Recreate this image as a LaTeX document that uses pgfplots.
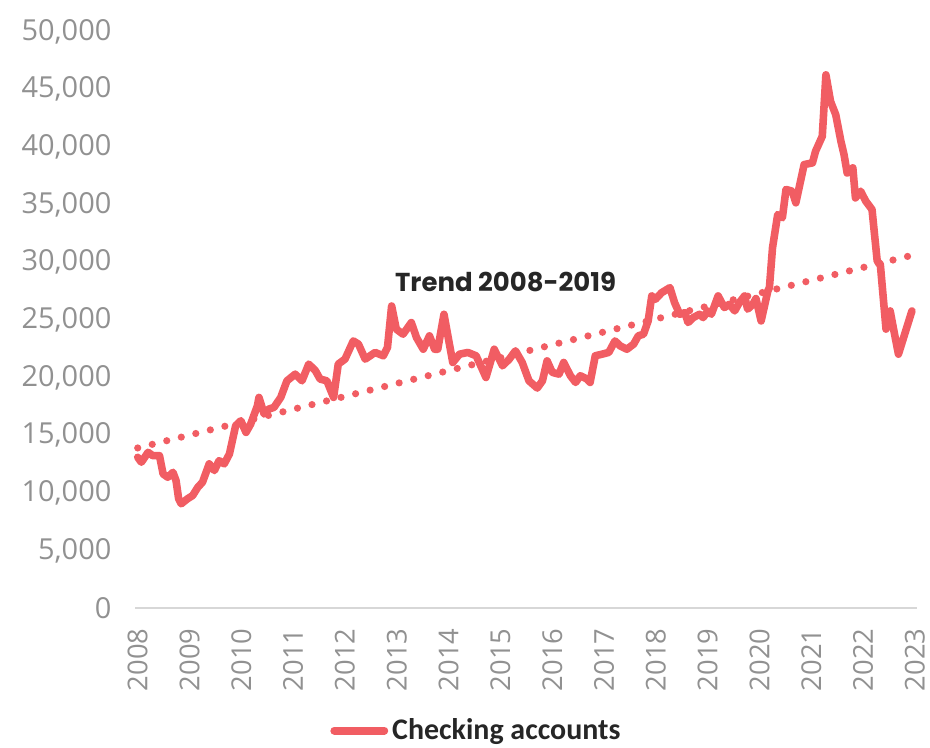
\documentclass[border=0pt]{standalone}
\usepackage{pgfplots}
\pgfplotsset{compat=1.18}
\usepackage{fontspec}
\setmainfont{Open Sans}
\newfontfamily\legfont{Carlito}
\newfontfamily\trendfont{Poppins}
\definecolor{acct}{RGB}{241,93,99}
\definecolor{ticklab}{RGB}{145,145,145}
\definecolor{axisgray}{RGB}{215,215,215}

\pgfplotstableread{
year value
2008.00 13090
2008.07 12660
2008.20 13520
2008.29 13235
2008.42 13235
2008.49 11650
2008.58 11360
2008.68 11790
2008.74 11070
2008.79 9490
2008.84 9060
2008.96 9490
2009.06 9775
2009.16 10490
2009.25 10930
2009.38 12520
2009.48 11940
2009.57 12800
2009.67 12520
2009.77 13380
2009.89 15830
2009.99 16260
2010.09 15250
2010.18 15970
2010.31 17560
2010.34 18280
2010.44 16840
2010.53 17270
2010.63 17420
2010.76 18280
2010.88 19720
2011.04 20300
2011.17 19720
2011.30 21170
2011.43 20590
2011.52 19870
2011.65 19720
2011.78 18280
2011.87 21170
2012.00 21600
2012.16 23180
2012.26 22900
2012.39 21600
2012.58 22180
2012.74 21890
2012.82 22610
2012.90 26210
2012.99 24200
2013.12 23760
2013.28 24770
2013.38 23470
2013.51 22460
2013.63 23620
2013.73 22460
2013.79 22460
2013.91 25490
2013.98 23760
2014.08 21310
2014.21 22030
2014.37 22180
2014.53 21890
2014.62 21020
2014.72 20010
2014.88 22460
2015.04 21020
2015.17 21600
2015.29 22320
2015.42 21310
2015.55 19720
2015.71 19090
2015.81 19720
2015.90 21450
2016.00 20450
2016.13 20300
2016.22 21310
2016.35 20160
2016.45 19580
2016.54 20160
2016.67 19870
2016.73 19580
2016.83 21890
2016.96 22030
2017.09 22180
2017.21 23180
2017.31 22750
2017.44 22460
2017.57 22900
2017.66 23620
2017.76 23760
2017.85 24910
2017.92 27080
2017.99 26790
2018.11 27360
2018.27 27800
2018.36 26500
2018.46 25490
2018.56 25630
2018.62 24770
2018.72 25200
2018.84 25490
2018.91 25200
2019.00 25780
2019.07 25490
2019.20 27080
2019.32 26070
2019.42 26360
2019.52 25780
2019.61 26500
2019.71 27080
2019.77 25930
2019.87 26360
2019.93 26850
2020.03 24910
2020.16 27510
2020.19 27800
2020.25 31260
2020.35 34140
2020.44 33850
2020.51 36310
2020.63 36160
2020.70 35150
2020.86 38470
2021.02 38610
2021.08 39620
2021.21 40920
2021.28 46250
2021.37 43940
2021.47 42790
2021.57 40480
2021.63 39330
2021.69 37740
2021.80 38180
2021.85 35580
2021.95 36160
2022.05 35290
2022.17 34570
2022.27 30100
2022.33 29820
2022.44 24200
2022.52 25780
2022.58 24340
2022.68 22030
2022.77 23330
2022.94 25780
}\checking

\begin{document}
\begin{tikzpicture}
\useasboundingbox (-69pt,-70pt) rectangle (397pt,304.8pt);
\begin{axis}[at={(0,0)}, anchor=south west, scale only axis,
  width=389.5pt, height=289pt,
  xmin=2008, xmax=2023, ymin=0, ymax=50000,
  axis line style={draw=none}, major tick length=0pt,
  xtick={2008,2009,...,2023}, ytick={0,5000,...,50000},
  scaled y ticks=false, clip=false,
  yticklabel style={font=\fontsize{14.5}{16}\selectfont, text=ticklab,
    /pgf/number format/1000 sep={,}, /pgf/number format/assume math mode=true,
    anchor=east, inner sep=0pt},
  yticklabel shift=13pt,
  xticklabel style={font=\fontsize{13.7}{15}\selectfont, text=ticklab,
    /pgf/number format/1000 sep={}, /pgf/number format/assume math mode=true,
    rotate=90, anchor=east, inner sep=0pt},
  xticklabel shift=10pt,
  legend style={at={(0.437,-0.212)}, anchor=center, draw=none, fill=none,
    font=\legfont\bfseries\fontsize{15}{17}\selectfont, text=black!85,
    inner sep=0pt},
  legend image code/.code={\draw[#1, line width=4pt, line cap=round] (0pt,0pt) -- (25pt,0pt);},
]
\draw[axisgray, line width=1pt] (rel axis cs:-0.003,0) -- (rel axis cs:1.003,0);
\addplot[acct, line width=3.6pt, line cap=round, dash pattern=on 0pt off 7.5pt, forget plot]
  coordinates {(2008,13900) (2022.94,30600)};
\addplot[acct, line width=3.8pt, line join=round, line cap=round] table[x=year, y=value] {\checking};
\addlegendentry{Checking accounts}
\node[font=\trendfont\bfseries\fontsize{13}{15}\selectfont, text=black!85]
  at (axis cs:2015.1,28290) {Trend 2008-2019};
\end{axis}
\end{tikzpicture}
\end{document}
